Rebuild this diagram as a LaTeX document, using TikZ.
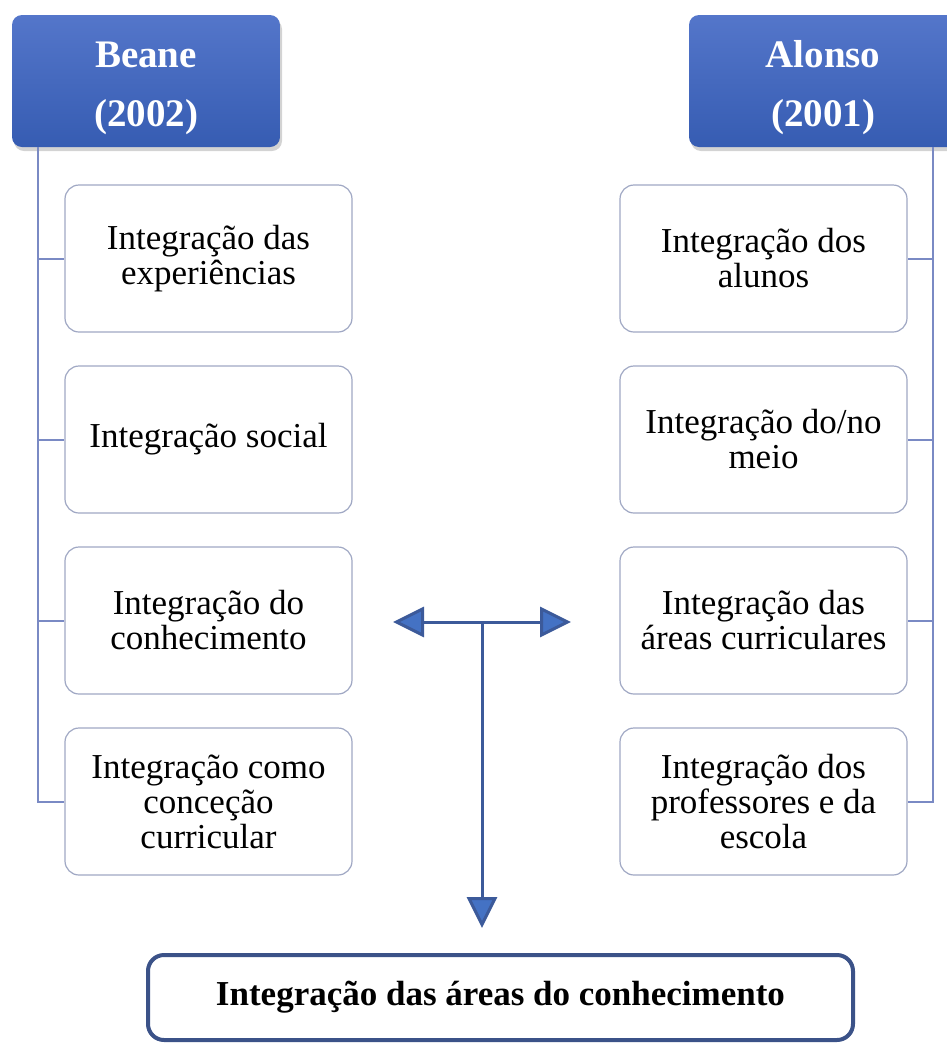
\documentclass[tikz,border=0pt]{standalone}
\usepackage{fontspec}
\setmainfont{Liberation Serif}
\usepackage{xcolor}
\usepackage{tikz}
\usetikzlibrary{positioning,calc}
\usetikzlibrary{arrows.meta,shadows}
\definecolor{hdtop}{RGB}{84,118,202}
\definecolor{hdbot}{RGB}{54,92,178}
\definecolor{boxgray}{RGB}{160,168,196}
\definecolor{linkblue}{RGB}{122,138,196}
\definecolor{arrline}{RGB}{60,90,154}
\definecolor{arrfill}{RGB}{68,114,196}
\definecolor{endblue}{RGB}{59,82,136}
\tikzstyle{head} = [rectangle,rounded corners=10pt,top color=hdtop,bottom color=hdbot,draw=none,
  minimum width=268pt,minimum height=132pt,
  drop shadow={opacity=0.35,shadow xshift=2pt,shadow yshift=-4pt}]
\tikzstyle{headtxt} = [align=center,text=white,font=\bfseries\fontsize{39}{59}\selectfont]
\tikzstyle{block} = [rectangle,rounded corners=14pt,align=center,fill=white,draw=boxgray,line width=1.2pt,
  minimum width=287pt,minimum height=147pt,font=\fontsize{35}{35}\selectfont]
\tikzstyle{final} = [rectangle,rounded corners=16pt,align=center,fill=white,draw=endblue,line width=4pt,
  minimum width=705pt,minimum height=85pt,font=\bfseries\fontsize{35}{35}\selectfont]
\tikzstyle{link} = [draw=linkblue,line width=2pt]
\tikzstyle{line} = [draw=arrline,line width=3pt,-{Triangle[length=31pt,width=30pt,fill=arrfill]}]

\begin{document}
\begin{tikzpicture}[x=1pt,y=-1pt,node distance=181pt]
        \path[use as bounding box,clip] (0,0) rectangle (947,1045);
        % authors
        \path node[head] (beane) at (146,81) {};
        \path node[headtxt] (beanetxt) at (146,88) {Beane\\(2002)};
        \path node[head] (alonso) at (823,81) {};
        \path node[headtxt] (alonsotxt) at (823,88) {Alonso\\(2001)};
        % Beane
        \path node[block] (b1) at (208.5,258.5) {Integração das\\experiências};
        \path node[block,below of=b1] (b2) {Integração social};
        \path node[block,below of=b2] (b3) {Integração do\\conhecimento};
        \path node[block,below of=b3] (b4) {Integração como\\conceção\\curricular};
        % Alonso
        \path node[block] (a1) at (763.5,258.5) {Integração dos\\alunos};
        \path node[block,below of=a1] (a2) {Integração do/no\\meio};
        \path node[block,below of=a2] (a3) {Integração das\\áreas curriculares};
        \path node[block,below of=a3] (a4) {Integração dos\\professores e da\\escola};
        \foreach \i in {1,...,4} {
            \draw[link] ([xshift=26pt]beane.south west) |- (b\i.west);
            \draw[link] ([xshift=-24pt]alonso.south east) |- (a\i.east);
        }
        % result
        \path node[final] (end) at (500.5,997.5) {Integração das áreas do conhecimento};
        \coordinate (t) at (482,622);
        \coordinate (tl) at (393,622);
        \coordinate (tr) at (571,622);
        \draw[line] (t) -- (tl);
        \draw[line] (t) -- (tr);
        \draw[line] (t) -- ([yshift=25pt]t |- end.north);
    \end{tikzpicture}
\end{document}
